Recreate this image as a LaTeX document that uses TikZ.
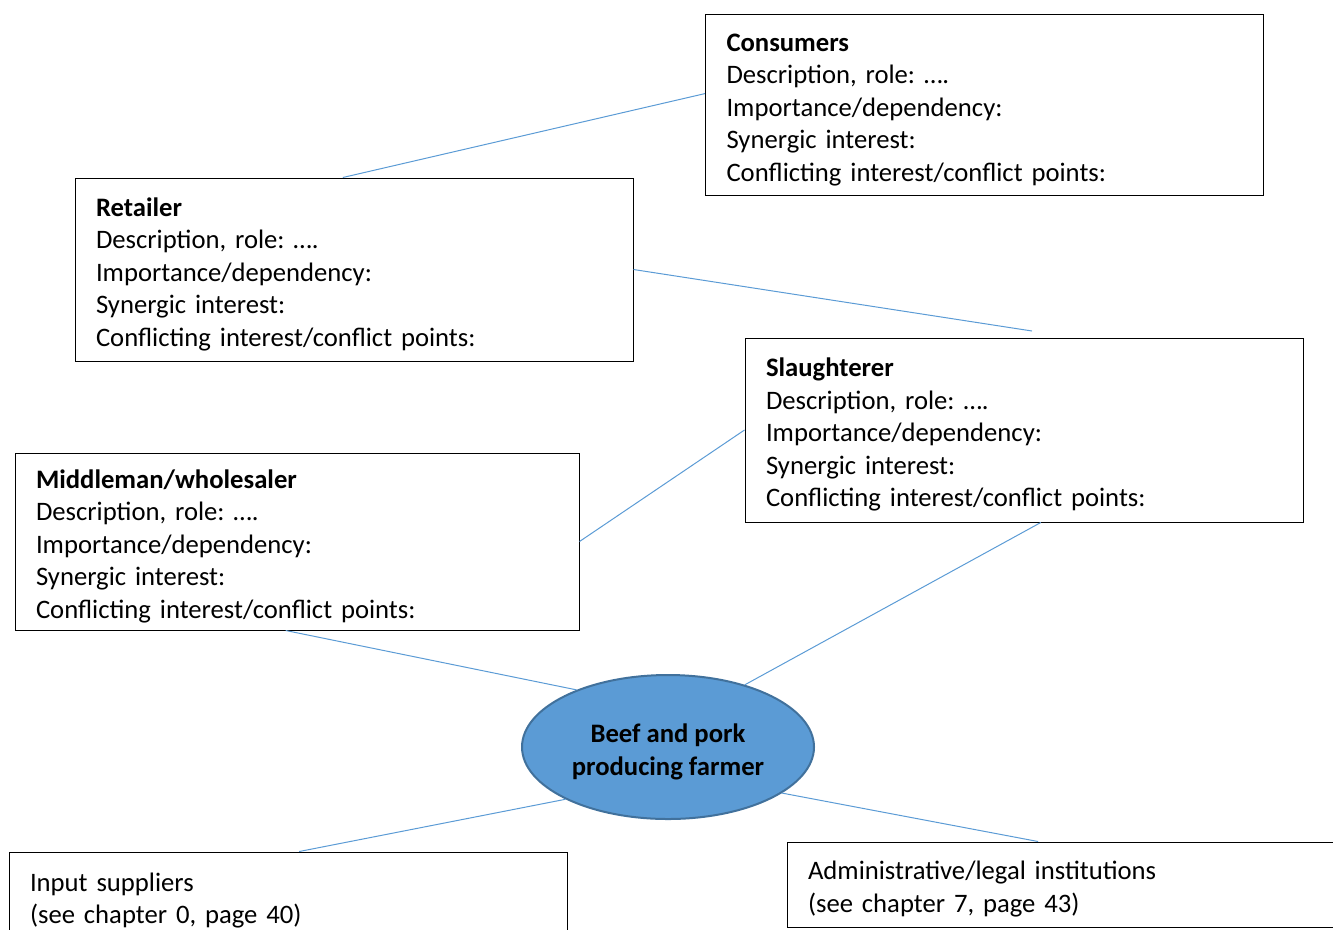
\documentclass[tikz,border=0pt]{standalone}
\usepackage{fontspec}
\setmainfont{Carlito}
\frenchspacing
\usepackage{tikz}
\usetikzlibrary{shapes.geometric, calc}
\definecolor{linkblue}{HTML}{5B9BD5}
\definecolor{rimblue}{HTML}{41719C}
\tikzstyle{actor} = [rectangle, draw=black, line width=0.75pt, inner xsep=15.75pt, inner ysep=0pt, align=left, text width=387pt, font=\fontsize{20pt}{24.4pt}\selectfont, execute at begin node={\rule{0pt}{21pt}}]
\tikzstyle{farmer} = [ellipse, draw=rimblue, line width=1.5pt, fill=linkblue, minimum width=219pt, minimum height=108pt, inner sep=0pt, align=center, font=\fontsize{20pt}{24.4pt}\selectfont\bfseries]
\tikzstyle{link} = [draw=linkblue, line width=0.75pt]

\begin{document}
\begin{tikzpicture}[x=0.75pt, y=-0.75pt]
\useasboundingbox (0,0) rectangle (1333,929);

\node (consumers) [actor, minimum height=135.75pt] at (984.5,104.5) {\textbf{Consumers}\\Description, role: ….\\Importance/dependency:\\Synergic interest:\\Conflicting interest/conflict points:};
\node (retailer) [actor, minimum height=137.25pt] at (354,269.5) {\textbf{Retailer}\\Description, role: ….\\Importance/dependency:\\Synergic interest:\\Conflicting interest/conflict points:};
\node (slaughterer) [actor, minimum height=138pt] at (1024,430) {\textbf{Slaughterer}\\Description, role: ….\\Importance/dependency:\\Synergic interest:\\Conflicting interest/conflict points:};
\node (middleman) [actor, text width=391.5pt, minimum height=132.75pt] at (297,541.5) {\textbf{Middleman/wholesaler}\\Description, role: ….\\Importance/dependency:\\Synergic interest:\\Conflicting interest/conflict points:};
\node (farmer) [farmer] at (668,747) {\rule{0pt}{21pt}Beef and pork\\producing farmer};
\node (input) [actor, minimum height=66pt] at (288,896) {Input suppliers\\(see chapter 0, page 40)};
\node (admin) [actor, minimum height=63.75pt] at (1066,884.5) {Administrative/legal institutions\\(see chapter 7, page 43)};
\coordinate (slTop) at (1032,331);

\draw [link] ($(consumers.north west)!0.44!(consumers.south west)$) -- ($(retailer.north west)!0.48!(retailer.north east)$);
\draw [link] (retailer.east) -- (slTop);
\draw [link] (slaughterer.west) -- (middleman.east);
\draw [link] ($(middleman.south west)!0.48!(middleman.south east)$) -- (farmer.148);
\draw [link] ($(slaughterer.south west)!0.53!(slaughterer.south east)$) -- (farmer.39);
\draw [link] (farmer.207) -- ($(input.north west)!0.52!(input.north east)$);
\draw [link] (farmer.338) -- ($(admin.north west)!0.45!(admin.north east)$);
\end{tikzpicture}
\end{document}
